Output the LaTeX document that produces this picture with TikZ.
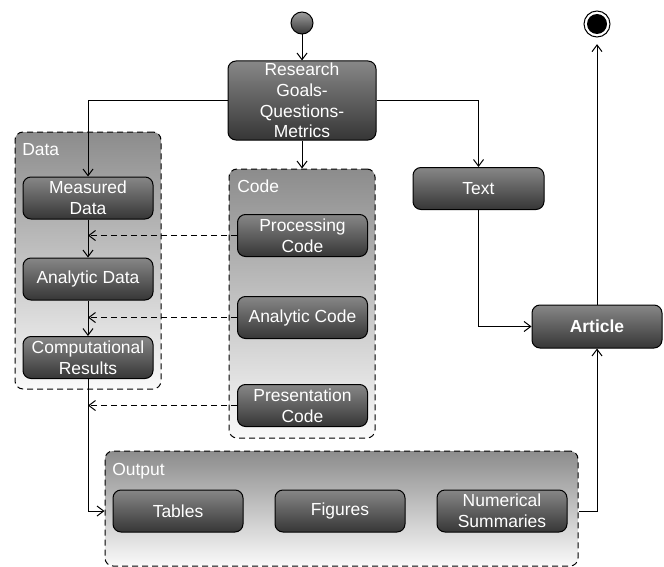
\documentclass[tikz,border=0pt]{standalone}
\usepackage{fontspec}
\setmainfont{Liberation Sans}
\definecolor{boxTop}{HTML}{878787}
\definecolor{boxBottom}{HTML}{363636}
\definecolor{grpTop}{HTML}{8C8C8C}
\definecolor{grpBottom}{HTML}{FAFAFA}
\usetikzlibrary{arrows.meta}
\newcommand{\boxfont}{\fontsize{13.1}{15.5}\selectfont}

\begin{document}
\begin{tikzpicture}[x=0.75pt, y=-0.75pt,
  stepbox/.style={draw=black, line width=0.75pt, rounded corners=6pt, top color=boxTop, bottom color=boxBottom,
    text=white, font=\boxfont, align=center, inner sep=0pt, minimum width=97.5pt, minimum height=31.5pt},
  groupbox/.style={draw=black, line width=0.75pt, dash pattern=on 4.5pt off 3pt, rounded corners=6pt,
    top color=grpTop, bottom color=grpBottom, inner sep=0pt},
  grouplabel/.style={anchor=base west, text=white, font=\boxfont, inner sep=0pt},
  flow/.style={-{Straight Barb[length=5pt,width=7.5pt]}, line width=0.75pt},
  uses/.style={flow, dash pattern=on 4.5pt off 3pt}]
  \useasboundingbox (0,0) rectangle (664,567);

  % groups (drawn first, behind the boxes)
  \node[groupbox, minimum width=109.5pt, minimum height=192.75pt] (data) at (88,260.5) {};
  \node[grouplabel] (datalabel) at (22,155) {Data};
  \node[groupbox, minimum width=109.5pt, minimum height=201.75pt] (code) at (302,303.5) {};
  \node[grouplabel] (codelabel) at (237,192) {Code};
  \node[groupbox, minimum width=354.75pt, minimum height=86.25pt] (output) at (341.5,508.5) {};
  \node[grouplabel] (outputlabel) at (112,475) {Output};

  % start and end
  \node[circle, draw=black, line width=0.75pt, top color=boxTop!80, bottom color=boxBottom, inner sep=0pt,
    minimum size=16.5pt] (start) at (302,23) {};
  \node[circle, draw=black, line width=0.75pt, fill=white, inner sep=0pt, minimum size=19.5pt] (end) at (597,24) {};
  \fill[black] (end.center) circle (7.5pt);

  % activities
  \node[stepbox, minimum width=111pt, minimum height=59.25pt] (research) at (302,100.5)
    {Research\\Goals-\\Questions-\\Metrics};
  \node[stepbox] (measured) at (88,198) {Measured\\Data};
  \node[stepbox] (analytic) at (88,279) {Analytic Data};
  \node[stepbox] (results) at (88,357.5) {Computational\\Results};
  \node[stepbox] (processing) at (302.5,235.5) {Processing\\Code};
  \node[stepbox] (acode) at (302.5,317.5) {Analytic Code};
  \node[stepbox] (presentation) at (302.5,405.5) {Presentation\\Code};
  \node[stepbox, minimum width=98.25pt] (text) at (478.5,188.5) {Text};
  \node[stepbox, minimum height=32.25pt, font=\boxfont\bfseries] (article) at (597,326.5) {Article};
  \node[stepbox] (tables) at (178,511) {Tables};
  \node[stepbox] (figures) at (340,511) {Figures};
  \node[stepbox] (summaries) at (502,511) {Numerical\\Summaries};

  % flow
  \draw[flow] (start) -- (research);
  \draw[flow] (research) -- (code);
  \draw[flow] (research.west) -| (measured.north);
  \draw[flow] (research.east) -| (text.north);
  \draw[flow] (measured) -- (analytic);
  \draw[flow] (analytic) -- (results);
  \draw[flow] (results.south) |- (tables.west -| output.west);
  \draw[flow] (text.south) |- (article.west);
  \draw[flow] (summaries.east -| output.east) -| (article.south);
  \draw[flow, shorten >=5pt] (article) -- (end);

  % code feeds the data
  \draw[uses] (processing.west) -- (processing.west -| measured.south);
  \draw[uses] (acode.west) -- (acode.west -| analytic.south);
  \draw[uses] (presentation.west) -- (presentation.west -| results.south);
\end{tikzpicture}
\end{document}
